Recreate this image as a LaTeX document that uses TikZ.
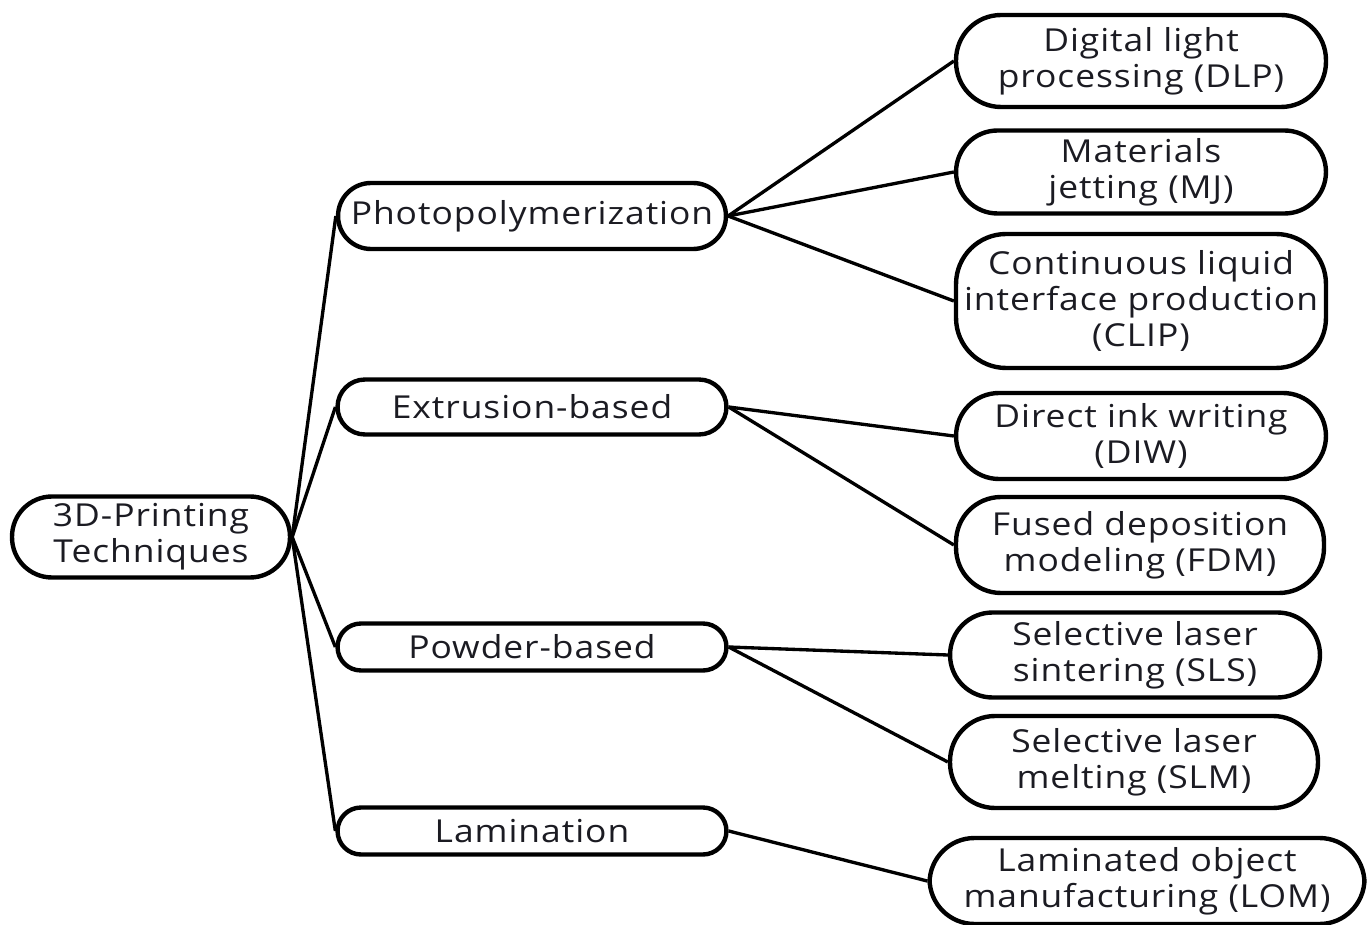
\documentclass[tikz,border=0pt]{standalone}
\usepackage{fontspec}
\setmainfont{Open Sans}[LetterSpace=3, FakeStretch=1.12]
\usepackage{tikz}
\usepackage{xcolor}

\definecolor{inkdark}{HTML}{1B1B22}

\tikzset{
  pill/.style={draw=black, line width=2.5pt, rounded corners=#1, inner sep=0pt,
    align=center, text=inkdark, font=\fontsize{18}{20.5}\selectfont},
  pill/.default=0.9cm,
  link/.style={draw=black, line width=1.9pt}
}

\begin{document}
\begin{tikzpicture}[x=0.02cm, y=-0.02cm]
  \useasboundingbox (0,0) rectangle (1372,925);

  % Root
  \node (root) at (151,537) [pill=0.8cm, minimum width=5.56cm, minimum height=1.62cm] {3D-Printing\\Techniques};

  % Technique families
  \node (photo) at (532,216) [pill=0.66cm, minimum width=7.76cm, minimum height=1.32cm] {Photopolymerization};
  \node (extru) at (532,407) [pill=0.55cm, minimum width=7.78cm, minimum height=1.1cm] {Extrusion-based};
  \node (powder) at (532,647) [pill=0.47cm, minimum width=7.78cm, minimum height=0.94cm] {Powder-based};
  \node (lamin) at (532,831) [pill=0.47cm, minimum width=7.78cm, minimum height=0.94cm] {Lamination};

  % Photopolymerization methods
  \node (dlp) at (1141,61) [pill, minimum width=7.4cm, minimum height=1.84cm] {Digital light\\processing (DLP)};
  \node (mj) at (1141,172) [pill=0.83cm, minimum width=7.4cm, minimum height=1.66cm] {Materials\\jetting (MJ)};
  \node (clip) at (1141,301) [pill=1.0cm, minimum width=7.4cm, minimum height=2.68cm] {Continuous liquid\\interface production\\(CLIP)};

  % Extrusion methods
  \node (diw) at (1141,436) [pill=0.86cm, minimum width=7.4cm, minimum height=1.72cm] {Direct ink writing\\(DIW)};
  \node (fdm) at (1140,545) [pill, minimum width=7.36cm, minimum height=1.92cm] {Fused deposition\\modeling (FDM)};

  % Powder methods
  \node (sls) at (1135,655) [pill=0.85cm, minimum width=7.4cm, minimum height=1.7cm] {Selective laser\\sintering (SLS)};
  \node (slm) at (1134,762) [pill, minimum width=7.36cm, minimum height=1.84cm] {Selective laser\\melting (SLM)};

  % Lamination method
  \node (lom) at (1147,881) [pill, minimum width=8.7cm, minimum height=1.72cm] {Laminated object\\manufacturing (LOM)};

  % Connectors
  \draw[link] (root.east) -- (photo.west);
  \draw[link] (root.east) -- (extru.west);
  \draw[link] (root.east) -- (powder.west);
  \draw[link] (root.east) -- (lamin.west);

  \draw[link] (photo.east) -- (dlp.west);
  \draw[link] (photo.east) -- (mj.west);
  \draw[link] (photo.east) -- (clip.west);
  \draw[link] (extru.east) -- (diw.west);
  \draw[link] (extru.east) -- (fdm.west);
  \draw[link] (powder.east) -- (sls.west);
  \draw[link] (powder.east) -- (slm.west);
  \draw[link] (lamin.east) -- (lom.west);
\end{tikzpicture}
\end{document}
